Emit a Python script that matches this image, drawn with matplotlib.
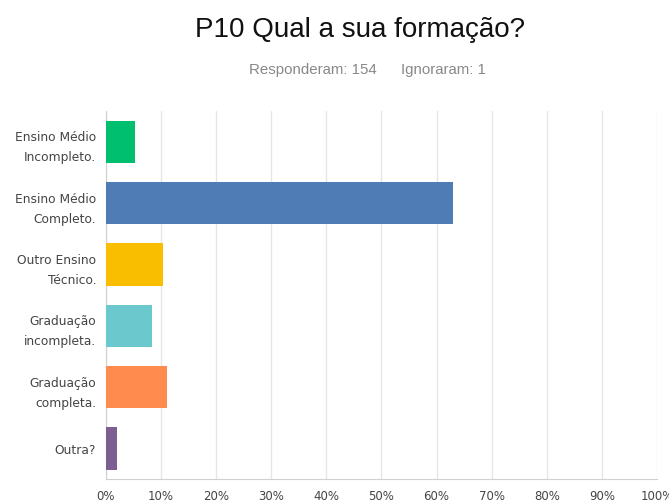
import matplotlib
matplotlib.use('Agg')
import matplotlib.pyplot as plt

# answer options and counts (154 answered)
categories = ['Ensino Médio\nIncompleto.', 'Ensino Médio\nCompleto.', 'Outro Ensino\nTécnico.',
              'Graduação\nincompleta.', 'Graduação\ncompleta.', 'Outra?']
counts = [8, 97, 16, 13, 17, 3]
answered = 154
skipped = 1
colors = ['#00BF6F', '#507CB6', '#F9BE00', '#6BC8CD', '#FF8B4F', '#7D5E90']
xticks = list(range(0, 101, 10))

percents = [100.0 * c / answered for c in counts]

fig = plt.figure(figsize=(6.69, 5.02), dpi=100)
ax = fig.add_axes([0.1584, 0.0438, 0.8236, 0.733])

ypos = list(range(len(categories)))
ax.barh(ypos, percents, height=0.69, color=colors, zorder=3)

ax.set_ylim(len(categories) - 0.5, -0.5)
ax.set_xlim(0, 100)
ax.set_xticks(xticks)
ax.set_xticklabels([f'{t}%' for t in xticks], fontsize=8.5, color='#444444', family='DejaVu Sans')
ax.set_yticks(ypos)
ax.set_yticklabels(categories, fontsize=8.8, color='#444444', family='DejaVu Sans', linespacing=1.7)
ax.tick_params(axis='y', length=0, pad=7)
ax.tick_params(axis='x', length=0, pad=7)

ax.grid(axis='x', color='#e6e6e6', linewidth=1, zorder=0)
for side in ['top', 'right']:
    ax.spines[side].set_visible(False)
ax.spines['left'].set_color('#d0d0d0')
ax.spines['bottom'].set_color('#d0d0d0')

fig.text(0.538, 0.94, 'P10 Qual a sua formação?', ha='center', va='center',
         fontsize=20, family='Liberation Sans', color='#111111')
fig.text(0.468, 0.861, f'Responderam: {answered}', ha='center', va='center',
         fontsize=10.8, family='Liberation Sans', color='#888888')
fig.text(0.663, 0.861, f'Ignoraram: {skipped}', ha='center', va='center',
         fontsize=10.8, family='Liberation Sans', color='#888888')

plt.savefig('out.png', dpi=100)
